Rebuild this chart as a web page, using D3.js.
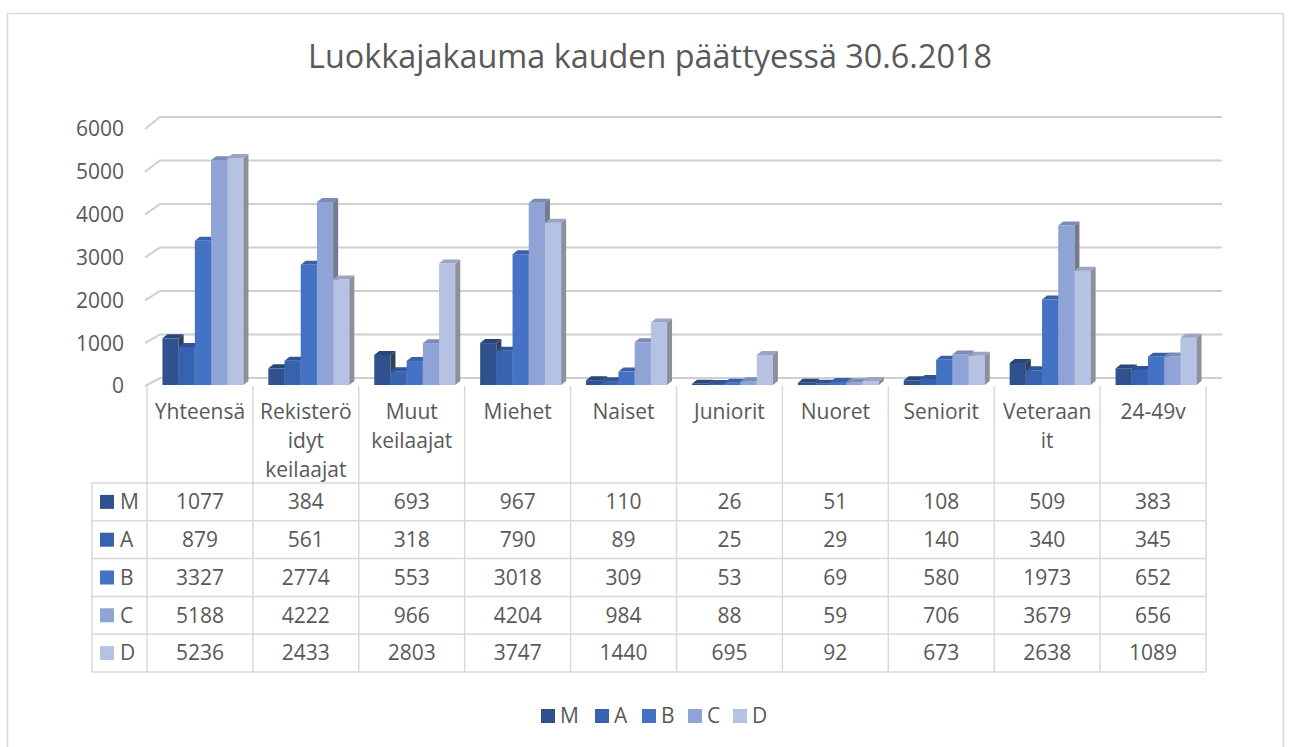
<!DOCTYPE html>
<html>
<head>
<meta charset="utf-8">
<script src="https://cdn.jsdelivr.net/npm/d3@7/dist/d3.min.js"></script>
<style>
  body { margin: 0; background: #fff; }
  text { font-family: "Open Sans", sans-serif; fill: #595959; }
</style>
</head>
<body>
<svg id="chart" width="1290" height="747"></svg>
<script>
var title = "Luokkajakauma kauden päättyessä 30.6.2018";
var categories = ["Yhteensä", "Rekisterö\nidyt\nkeilaajat", "Muut\nkeilaajat", "Miehet", "Naiset",
                  "Juniorit", "Nuoret", "Seniorit", "Veteraan\nit", "24-49v"];
var seriesNames = ["M", "A", "B", "C", "D"];
var M = [1077, 384, 693, 967, 110, 26, 51, 108, 509, 383];
var A = [879, 561, 318, 790, 89, 25, 29, 140, 340, 345];
var B = [3327, 2774, 553, 3018, 309, 53, 69, 580, 1973, 652];
var C = [5188, 4222, 966, 4204, 984, 88, 59, 706, 3679, 656];
var D = [5236, 2433, 2803, 3747, 1440, 695, 92, 673, 2638, 1089];
var yTicks = [0, 1000, 2000, 3000, 4000, 5000, 6000];
var colors = ["#2F528F", "#3762B0", "#4472C4", "#8FA3D6", "#B6C2E3"];

var values = [M, A, B, C, D];
var fs = "21px";

var svg = d3.select("#chart");

// outer frame
svg.append("rect").attr("x", 7.5).attr("y", 13.5).attr("width", 1276).attr("height", 760)
  .attr("fill", "none").attr("stroke", "#D9D9D9").attr("stroke-width", 1.5);

// title, fitted to the reference width
var t = svg.append("text").attr("x", 650).attr("y", 68).attr("text-anchor", "middle")
  .style("font-size", "30px").text(title);
var tw = t.node().getComputedTextLength();
t.style("font-size", (30 * 684 / tw) + "px");

var x = d3.scaleBand().domain(d3.range(categories.length)).range([147, 1206]);
var yBar = d3.scaleLinear().domain([0, 6000]).range([385, 125]);
var yFront = d3.scaleLinear().domain([0, 6000]).range([386, 129]);
var yBack = d3.scaleLinear().domain([0, 6000]).range([378, 117]);

// back wall gridlines
var grid = svg.append("g");
yTicks.forEach(function(v) {
  grid.append("path")
    .attr("d", "M145," + yFront(v) + "L160," + yBack(v) + "L1222," + yBack(v))
    .attr("fill", "none").attr("stroke", "#CFCFCF").attr("stroke-width", 2);
  svg.append("text").attr("x", 124).attr("y", yFront(v)).attr("dy", "0.35em")
    .attr("text-anchor", "end").style("font-size", fs).text(v);
});

// 3D bars
var clusterW = 81, dx = 5, dy = 4;
var xs = d3.scaleBand().domain(d3.range(seriesNames.length)).range([0, clusterW]);
var bars = svg.append("g");
categories.forEach(function(c, i) {
  var x0 = x(i) + (x.bandwidth() - clusterW) / 2 + 3;
  values.forEach(function(arr, s) {
    var bx = x0 + xs(s), w = xs.bandwidth();
    var yt = yBar(arr[i]), yb = yBar(0);
    var col = d3.color(colors[s]);
    var g = bars.append("g");
    g.append("rect").attr("x", bx).attr("y", yt).attr("width", w).attr("height", yb - yt)
      .attr("fill", colors[s]);
    g.append("path")
      .attr("d", "M" + bx + "," + yt + "L" + (bx + dx) + "," + (yt - dy) + "L" + (bx + w + dx) + "," + (yt - dy) + "L" + (bx + w) + "," + yt + "Z")
      .attr("fill", col.darker(0.45));
    var side = d3.hsl(col.darker(0.9)); side.s *= 0.55;
    g.append("path")
      .attr("d", "M" + (bx + w) + "," + yt + "L" + (bx + w + dx) + "," + (yt - dy) + "L" + (bx + w + dx) + "," + (yb - dy) + "L" + (bx + w) + "," + yb + "Z")
      .attr("fill", side);
  });
});

// data table
var rowTop = 483, rowH = 37.8, tableLeft = 92;
var tbl = svg.append("g").attr("stroke", "#D9D9D9").attr("stroke-width", 1.5);
d3.range(categories.length + 1).forEach(function(i) {
  var xx = i < categories.length ? x(i) : x.range()[1];
  tbl.append("line").attr("x1", xx).attr("x2", xx).attr("y1", 386).attr("y2", rowTop + rowH * 5);
});
tbl.append("line").attr("x1", tableLeft).attr("x2", tableLeft).attr("y1", rowTop).attr("y2", rowTop + rowH * 5);
d3.range(6).forEach(function(r) {
  tbl.append("line").attr("x1", tableLeft).attr("x2", x.range()[1])
    .attr("y1", rowTop + rowH * r).attr("y2", rowTop + rowH * r);
});

// header labels
categories.forEach(function(c, i) {
  var lines = c.split("\n");
  var tx = svg.append("text").attr("text-anchor", "middle").style("font-size", fs);
  lines.forEach(function(l, k) {
    tx.append("tspan").attr("x", x(i) + x.bandwidth() / 2).attr("y", 419 + k * 29).text(l);
  });
});

// rows
seriesNames.forEach(function(n, s) {
  var cy = rowTop + rowH * s + rowH / 2;
  svg.append("rect").attr("x", 100).attr("y", cy - 7).attr("width", 14).attr("height", 14).attr("fill", colors[s]);
  svg.append("text").attr("x", 120).attr("y", cy).attr("dy", "0.35em").style("font-size", fs).text(n);
  values[s].forEach(function(v, i) {
    svg.append("text").attr("x", x(i) + x.bandwidth() / 2).attr("y", cy).attr("dy", "0.35em")
      .attr("text-anchor", "middle").style("font-size", fs).text(v);
  });
});

// legend
var legX = [541, 595, 642, 688, 733];
seriesNames.forEach(function(n, s) {
  svg.append("rect").attr("x", legX[s]).attr("y", 709).attr("width", 14).attr("height", 14).attr("fill", colors[s]);
  svg.append("text").attr("x", legX[s] + 19).attr("y", 716).attr("dy", "0.35em").style("font-size", fs).text(n);
});
</script>
</body>
</html>
